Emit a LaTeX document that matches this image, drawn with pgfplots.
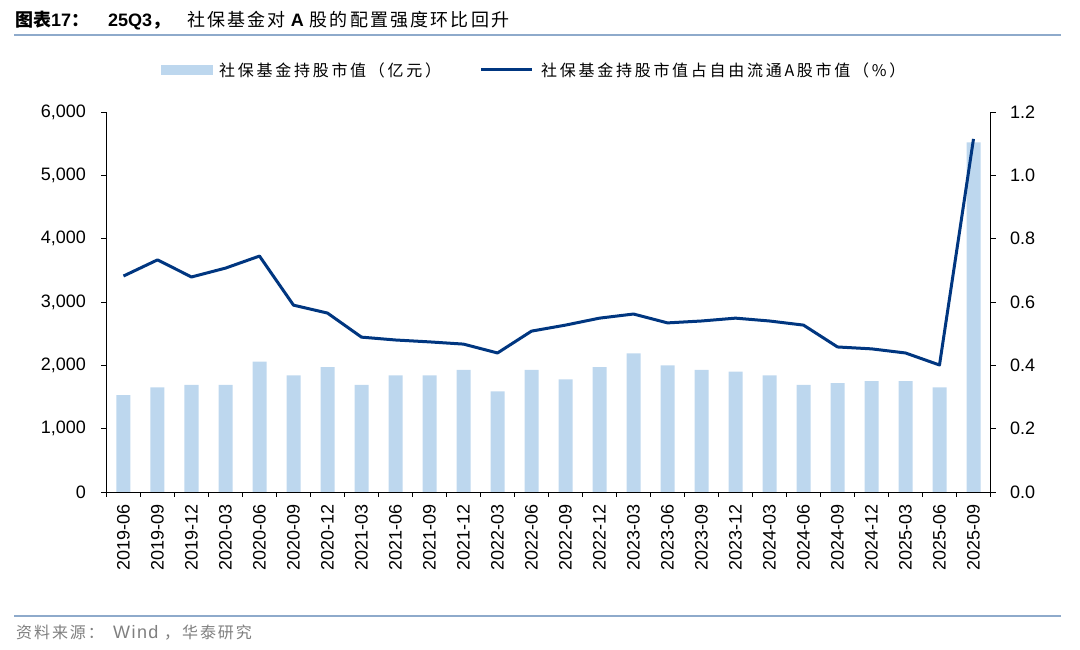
\documentclass[border=0pt]{standalone}
\usepackage{fontspec}
\setmainfont{Liberation Sans}
\newfontfamily\cjk{Noto Sans CJK SC}
\newfontfamily\cjkt[LetterSpace=12]{Noto Sans CJK SC}
\newfontfamily\cjksp[LetterSpace=17]{Noto Sans CJK SC}
\newfontfamily\cjksrc[LetterSpace=12]{Noto Sans CJK SC}
\newfontfamily\latsp[LetterSpace=8]{Liberation Sans}
\usepackage{pgfplots}
\usepackage{pgfplotstable}
\pgfplotsset{compat=1.18}

\definecolor{barblue}{HTML}{BDD7EE}
\definecolor{linenavy}{HTML}{003680}
\definecolor{rulegray}{HTML}{8EAACB}
\definecolor{srcgray}{HTML}{7F7F7F}

% x: quarter index, val: holdings (100m CNY), pct: share of free-float A (%)
\pgfplotstableread{
x val pct
0 1530 0.682
1 1650 0.733
2 1690 0.679
3 1690 0.707
4 2060 0.745
5 1840 0.590
6 1970 0.565
7 1690 0.489
8 1840 0.480
9 1840 0.474
10 1930 0.467
11 1590 0.439
12 1930 0.508
13 1780 0.527
14 1970 0.549
15 2190 0.562
16 2000 0.534
17 1930 0.540
18 1900 0.549
19 1840 0.540
20 1690 0.527
21 1720 0.458
22 1750 0.452
23 1750 0.439
24 1650 0.401
25 5520 1.115
}\datatable

\pgfplotsset{
  base/.style={
    scale only axis, width=884pt, height=380pt,
    at={(106.5pt,158pt)}, anchor=south west,
    xmin=-0.5, xmax=25.5, ymin=0,
    axis line style={-, black, line width=0.8pt},
    tick align=outside, tick style={black, line width=0.8pt},
    major tick length=5pt, minor tick length=5pt,
    tick label style={font=\fontsize{18}{18}\selectfont},
    /pgf/number format/assume math mode=true,
  }
}

\begin{document}
\begin{tikzpicture}[x=1pt,y=1pt]
\useasboundingbox (0,0) rectangle (1080,650);

% title
\node[anchor=base west, inner sep=0pt, font=\fontsize{18}{18}\selectfont] at (15,623)
  {{\cjk\bfseries 图表}{\bfseries 17}{\cjk\bfseries ：}};
\node[anchor=base west, inner sep=0pt, font=\fontsize{18}{18}\selectfont] at (108,623)
  {{\bfseries 25Q3}{\cjk\bfseries ，}};
\node[anchor=base west, inner sep=0pt, font=\fontsize{18}{18}\selectfont] at (187,623)
  {{\cjkt 社保基金对}\hspace{5pt}{\bfseries A}\hspace{6pt}{\cjkt 股的配置强度环比回升}};
\draw[rulegray, line width=2pt] (14,615) -- (1061,615);

% legend
\fill[barblue] (161,575) rectangle (213,585);
\node[anchor=west, inner sep=0pt, font=\fontsize{16}{16}\selectfont] at (219,580)
  {\cjksp 社保基金持股市值（亿元）};
\draw[linenavy, line width=3pt] (481,580) -- (532,580);
\node[anchor=west, inner sep=0pt, font=\fontsize{16}{16}\selectfont] at (541,580)
  {\cjksp 社保基金持股市值占自由流通A股市值（\%）};

\begin{axis}[base,
  ymax=6000,
  axis y line*=left, axis x line*=bottom,
  ytick={0,1000,...,6000},
  yticklabel style={xshift=-12pt},
  /pgf/number format/1000 sep={,},
  xtick={0,...,25},
  xticklabels={2019-06,2019-09,2019-12,2020-03,2020-06,2020-09,2020-12,2021-03,2021-06,2021-09,2021-12,2022-03,2022-06,2022-09,2022-12,2023-03,2023-06,2023-09,2023-12,2024-03,2024-06,2024-09,2024-12,2025-03,2025-06,2025-09},
  x tick label style={rotate=90, anchor=east, yshift=0pt, xshift=-4pt},
  major x tick style={draw=none},
  minor xtick={-0.5,0.5,...,25.5},
]
\addplot[ybar, bar width=14pt, fill=barblue, draw=none] table[x=x, y=val] {\datatable};
\end{axis}

\begin{axis}[base,
  ymax=1.2,
  axis y line*=right, axis x line=none,
  ytick={0,0.2,...,1.2},
  yticklabel style={xshift=11pt, /pgf/number format/.cd, fixed, fixed zerofill, precision=1},
]
\addplot[linenavy, line width=3pt, line join=round] table[x=x, y=pct] {\datatable};
\end{axis}

% source
\draw[rulegray, line width=1.5pt] (14,34) -- (1061,34);
\node[anchor=base west, inner sep=0pt, text=srcgray, font=\fontsize{16}{16}\selectfont] at (16,11)
  {\cjksrc 资料来源：};
\node[anchor=base west, inner sep=0pt, text=srcgray, font=\fontsize{18}{18}\selectfont] at (113,11)
  {\latsp Wind};
\node[anchor=base west, inner sep=0pt, text=srcgray, font=\fontsize{16}{16}\selectfont] at (164,11)
  {\cjksrc ，华泰研究};
\end{tikzpicture}
\end{document}
